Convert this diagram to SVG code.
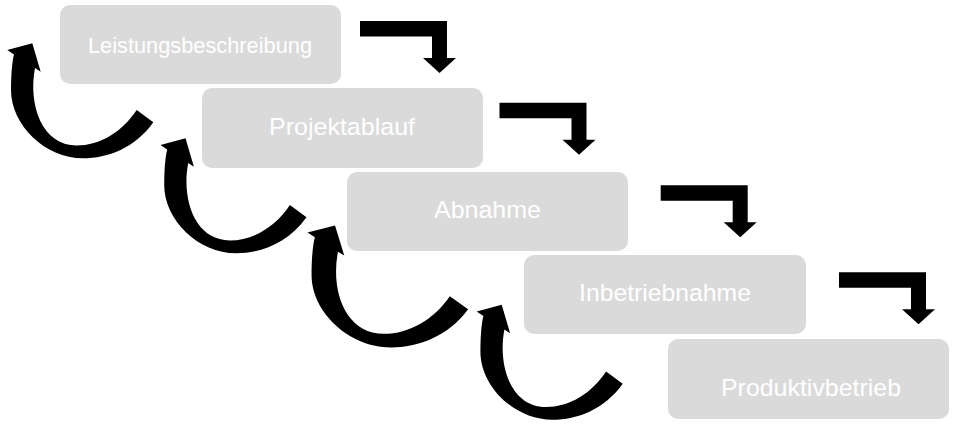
<svg xmlns="http://www.w3.org/2000/svg" xmlns:xlink="http://www.w3.org/1999/xlink" width="959" height="430" viewBox="0 0 959 430">
  <style>
    .box { fill: #dadada; }
    .lbl { fill: #ffffff; font-family: "Liberation Sans", Arial, sans-serif; text-anchor: middle; }
    .arr { fill: #000000; }
  </style>
  <defs>
    <path id="elbow" d="M0,0 L87,0 L87,37 L96,37 L79.5,52 L63,37 L72,37 L72,15.5 L0,15.5 Z"/>
    <path id="uturn" d="M0,0 L8.4,28.4 L2.7,24.7 C-4.3,61.7 9.7,102.2 44.4,102.2 C67.7,102.2 89.7,88.7 104.4,66.7 L121,79 C102.7,104.7 75.7,115 50.7,115 C12.7,115 -21.3,81.7 -21.3,46.7 C-21.3,31.7 -20.3,18.7 -18.3,11.1 L-25,6.7 Z"/>
  </defs>
  <rect width="959" height="430" fill="#ffffff"/>

  <g id="node-leistungsbeschreibung">
    <rect class="box" x="60" y="5" width="281" height="79" rx="10"/>
    <text class="lbl" x="200" y="52.5" font-size="22" textLength="224" lengthAdjust="spacingAndGlyphs">Leistungsbeschreibung</text>
  </g>
  <g id="node-projektablauf">
    <rect class="box" x="202" y="88" width="281" height="80" rx="10"/>
    <text class="lbl" x="342" y="134.5" font-size="24.5" textLength="146" lengthAdjust="spacingAndGlyphs">Projektablauf</text>
  </g>
  <g id="node-abnahme">
    <rect class="box" x="347" y="172" width="281" height="79" rx="10"/>
    <text class="lbl" x="487.5" y="218" font-size="24.5" textLength="107" lengthAdjust="spacingAndGlyphs">Abnahme</text>
  </g>
  <g id="node-inbetriebnahme">
    <rect class="box" x="524" y="255" width="282" height="79" rx="10"/>
    <text class="lbl" x="665" y="300.7" font-size="24.5" textLength="172" lengthAdjust="spacingAndGlyphs">Inbetriebnahme</text>
  </g>
  <g id="node-produktivbetrieb">
    <rect class="box" x="668" y="339" width="281" height="80" rx="10"/>
    <text class="lbl" x="811" y="396" font-size="24.5" textLength="180" lengthAdjust="spacingAndGlyphs">Produktivbetrieb</text>
  </g>

  <g id="connectors" class="arr">
    <use xlink:href="#elbow" href="#elbow" transform="translate(360,21)"/>
    <use xlink:href="#elbow" href="#elbow" transform="translate(499.5,102.7)"/>
    <use xlink:href="#elbow" href="#elbow" transform="translate(660.7,185.3)"/>
    <use xlink:href="#elbow" href="#elbow" transform="translate(839,272.3)"/>
    <use xlink:href="#uturn" href="#uturn" transform="translate(32.3,43.3)"/>
    <use xlink:href="#uturn" href="#uturn" transform="translate(185.5,138.3)"/>
    <use xlink:href="#uturn" href="#uturn" transform="translate(335,225.5) scale(1.1,1.06)"/>
    <use xlink:href="#uturn" href="#uturn" transform="translate(501.7,304.8)"/>
  </g>
</svg>
